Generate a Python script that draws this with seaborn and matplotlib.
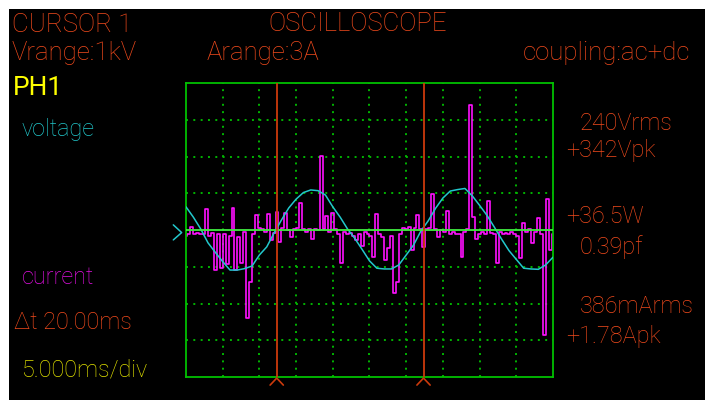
import numpy as np
import matplotlib
matplotlib.use("Agg")
import matplotlib.pyplot as plt
import seaborn as sns

# scope settings
ms_per_div = 5.0
n_div_x, n_div_y = 10, 8
cursor_ms = [12.36, 32.36]

# voltage trace, one sample per ms, in screen divisions
volt_t = list(range(0, 51))
voltage = [0.63, 0.35, 0.03, -0.35, -0.61, -0.86, -1.09, -1.09, -1.05, -0.98,
           -0.68, -0.46, -0.08, 0.27, 0.60, 0.84, 1.02, 1.09, 1.07, 0.95,
           0.63, 0.35, 0.03, -0.23, -0.53, -0.84, -1.04, -1.06, -1.06, -0.95,
           -0.68, -0.41, -0.03, 0.25, 0.59, 0.87, 1.06, 1.10, 1.13, 0.93,
           0.67, 0.40, 0.08, -0.25, -0.56, -0.80, -1.04, -1.06, -1.07, -0.95,
           -0.74]

# current trace, one sample every 0.4 ms, in screen divisions
sample_ms = 0.4
current = [-0.15, -0.10, 0.08, -0.12, -0.08, -0.10, -0.12, 0.56, -0.15, -0.08,
           -1.09, -0.12, -1.04, -0.10, -0.93, -0.15, 0.59, -1.09, -0.20, -0.90,
           -0.05, -2.40, -1.41, -0.10, 0.41, 0.05, 0.02, -0.05, 0.44, -0.27,
           -0.08, 0.50, -0.32, 0.05, 0.46, 0.00, -0.19, 0.03, 0.05, 0.73,
           0.02, -0.05, 0.04, -0.25, 0.03, 0.00, 2.02, 0.02, 0.37, -0.05,
           0.46, 0.03, -0.10, -0.90, -0.05, -0.12, -0.08, -0.15, -0.27, -0.10,
           -0.44, -0.05, -0.12, -0.15, -0.73, 0.44, -0.10, -0.20, -0.82, -0.49,
           -0.15, -1.72, -1.41, -0.10, 0.06, 0.04, 0.08, -0.54, 0.05, 0.41,
           0.02, -0.45, 0.03, 0.05, 0.97, 0.02, -0.19, 0.00, -0.05, 0.52,
           -0.10, -0.05, -0.12, -0.10, -0.73, -0.05, 0.03, 3.41, 0.35, -0.25,
           -0.10, -0.05, -0.12, 0.78, -0.08, -0.10, -0.89, -0.05, -0.12, -0.08,
           -0.10, -0.05, -0.12, -0.15, -0.76, 0.20, -0.05, 0.02, -0.36, -0.05,
           0.32, -0.10, -2.85, 0.84, -0.55, -0.10]
current_t = np.arange(len(current)) * sample_ms

# readouts
header = ["CURSOR 1", "OSCILLOSCOPE"]
ranges = ["Vrange:1kV", "Arange:3A", "coupling:ac+dc"]
volt_read = ["240Vrms", "+342Vpk"]
power_read = ["+36.5W", "0.39pf"]
amp_read = ["386mArms", "+1.78Apk"]

ORANGE = "#f04a1c"
CYAN = "#22c8cc"
MAGENTA = "#ff10ff"
GREEN = "#00c000"
DOTS = "#00b400"
CURSOR = "#cc3a0c"

sns.set_theme(style="dark")
plt.rcParams["font.family"] = ["Roboto", "DejaVu Sans"]

W, H = 705, 400
fig = plt.figure(figsize=(W / 100, H / 100), dpi=100, facecolor="white")
fig.add_artist(plt.Rectangle((9 / W, 0), 1, 1 - 9 / H, transform=fig.transFigure,
                             facecolor="black", edgecolor="none", zorder=-10))

ax = fig.add_axes([186 / W, 1 - 377 / H, 367 / W, 294 / H])
ax.set_facecolor("black")
span = ms_per_div * n_div_x
ax.set_xlim(0, span)
ax.set_ylim(-n_div_y / 2, n_div_y / 2)
ax.set_xticks([])
ax.set_yticks([])
for s in ax.spines.values():
    s.set_color(GREEN)
    s.set_linewidth(1.3)
    s.set_visible(True)

# dotted graticule
dots = (0, (1, 2.77))
gx = [ms_per_div * k for k in range(1, n_div_x)]
gy = [k for k in range(-3, 4) if k != 0]
ax.hlines(gy, 0, span, colors=DOTS, linestyles=[dots], linewidth=1.4, zorder=1)
ax.vlines(gx, -4, 4, colors=DOTS, linestyles=[dots], linewidth=1.4, zorder=1)

sns.lineplot(x=current_t, y=current, ax=ax, color=MAGENTA, linewidth=1.2,
             drawstyle="steps-mid", zorder=2)
sns.lineplot(x=volt_t, y=voltage, ax=ax, color=CYAN, linewidth=1.1, zorder=3)
ax.axhline(0, color="#40ee40", linewidth=1.3, zorder=4)

for c in cursor_ms:
    ax.axvline(c, color=CURSOR, linewidth=1.3, zorder=5)
    ax.plot([c - 0.9, c, c + 0.9], [-4.22, -4.03, -4.22], color=CURSOR,
            linewidth=1.2, clip_on=False, zorder=5)

# channel ground marker
ax.plot([-1.73, -0.59, -1.73], [0.14, -0.07, -0.27], color=CYAN,
        linewidth=1.1, clip_on=False)
ax.set_xlabel("")
ax.set_ylabel("")


def label(x, y, s, color=ORANGE, size=16.8, weight="light"):
    fig.text(x / W, 1 - y / H, s, color=color, fontsize=size,
             fontweight=weight, ha="left", va="baseline")


label(12, 32, header[0], size=18.5)
label(268, 31, header[1], size=18.5)
label(12, 60, ranges[0], size=18.5)
label(207, 60, ranges[1], size=18.5)
label(523, 60, ranges[2], size=18.5)
label(13, 95, "PH1", color="#ffff00", size=19, weight="normal")
label(22, 136, "voltage", color=CYAN)
label(22, 284, "current", color="#e010e0")
label(14, 329, "\u0394t 20.00ms")
label(22, 376, "5.000ms/div", color="#e0e000")

label(580, 130, volt_read[0])
label(566, 157, volt_read[1])
label(566, 223, power_read[0])
label(580, 254, power_read[1])
label(580, 313, amp_read[0])
label(566, 343, amp_read[1])

fig.savefig("out.png", dpi=100, facecolor=fig.get_facecolor())
